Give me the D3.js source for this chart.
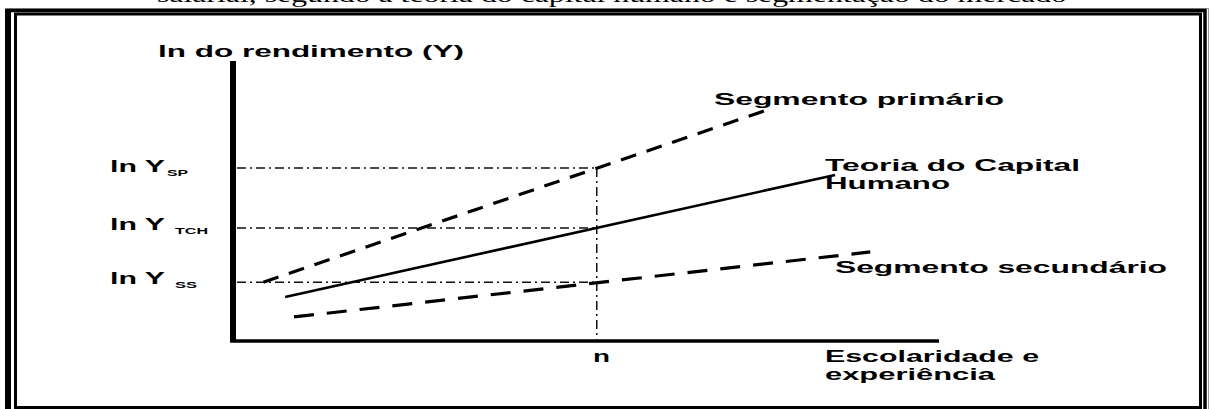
<!DOCTYPE html>
<html>
<head>
<meta charset="utf-8">
<title>Capital humano e segmentação</title>
<script src="https://d3js.org/d3.v7.min.js"></script>
<style>
  html, body { margin: 0; padding: 0; background: #fff; }
  svg { display: block; }
  .lbl { font-family: "Liberation Sans", Arial, sans-serif; font-weight: bold; fill: #000; }
</style>
</head>
<body>
<script>
// data (schematic units: escolaridade 0-100, ln rendimento 0-100)
var lineNames = ["Segmento primário", "Teoria do Capital Humano", "Segmento secundário"];
var lineX = [[4.3, 76.2], [7.4, 85.4], [8.65, 90.4]];
var lineY = [[21.0, 82.9], [15.7, 59.3], [8.6, 31.8]];
var lineDash = ["16,11", null, "20,13"];
var levelNames = ["SP", "TCH", "SS"];
var levelValues = [61.8, 40.4, 21.0];
var nValue = 51.6;

var W = 1211, H = 409;

var svg = d3.select("body").append("svg")
  .attr("width", W)
  .attr("height", H);

var x = d3.scaleLinear().domain([0, 100]).range([233, 938]);
var y = d3.scaleLinear().domain([0, 100]).range([341, 61]);

// cut caption at the top
svg.append("text")
  .attr("x", 157).attr("y", 1.5)
  .attr("textLength", 910).attr("lengthAdjust", "spacingAndGlyphs")
  .style("font-family", "'Liberation Serif', 'Times New Roman', serif")
  .style("font-size", "20px")
  .text("salarial, segundo a teoria do capital humano e segmentação do mercado");

// double frame
var frame = svg.append("g");
frame.append("line").attr("x1", 5).attr("x2", 1208).attr("y1", 8.5).attr("y2", 8.5)
  .attr("stroke", "#999").attr("stroke-width", 1);
frame.append("line").attr("x1", 1208.5).attr("x2", 1208.5).attr("y1", 8).attr("y2", 409)
  .attr("stroke", "#999").attr("stroke-width", 1);
frame.append("path").attr("d", "M8,420 V10.5 H1205 V420")
  .attr("fill", "none").attr("stroke", "#000").attr("stroke-width", 3.5);
frame.append("line").attr("x1", 8).attr("x2", 8).attr("y1", 9).attr("y2", 420)
  .attr("stroke", "#000").attr("stroke-width", 6);
frame.append("path").attr("d", "M15.5,407.5 V14 H1200.5 V407.5 Z")
  .attr("fill", "none").attr("stroke", "#000").attr("stroke-width", 3);

// dash-dot guides
var guides = svg.append("g")
  .attr("stroke", "#111").attr("stroke-width", 1.5)
  .attr("stroke-dasharray", "9,4,2,4").attr("fill", "none");
guides.selectAll("line.h").data(levelValues).enter().append("line")
  .attr("class", "h")
  .attr("x1", x(0) + 4).attr("x2", x(nValue))
  .attr("y1", function(d) { return y(d); })
  .attr("y2", function(d) { return y(d); });
guides.append("line")
  .attr("x1", x(nValue)).attr("x2", x(nValue))
  .attr("y1", y(d3.max(levelValues))).attr("y2", y(0));

// lines
svg.append("g").selectAll("line.seg").data(lineNames).enter().append("line")
  .attr("class", "seg")
  .attr("x1", function(d, i) { return x(lineX[i][0]); })
  .attr("y1", function(d, i) { return y(lineY[i][0]); })
  .attr("x2", function(d, i) { return x(lineX[i][1]); })
  .attr("y2", function(d, i) { return y(lineY[i][1]); })
  .attr("stroke", "#000")
  .attr("stroke-width", function(d, i) { return lineDash[i] ? 3.2 : 2.6; })
  .attr("stroke-dasharray", function(d, i) { return lineDash[i]; });

// axes
svg.append("line")
  .attr("x1", x(0)).attr("x2", x(0))
  .attr("y1", y(100)).attr("y2", y(0) + 1)
  .attr("stroke", "#000").attr("stroke-width", 6);
svg.append("line")
  .attr("x1", x(0) - 3).attr("x2", x(100) + 1)
  .attr("y1", y(0)).attr("y2", y(0))
  .attr("stroke", "#000").attr("stroke-width", 3.5);

// text labels
function label(str, px, py, len, size) {
  svg.append("text").attr("class", "lbl")
    .attr("x", px).attr("y", py)
    .attr("textLength", len).attr("lengthAdjust", "spacingAndGlyphs")
    .style("font-size", (size || 16) + "px")
    .text(str);
}

label("ln do rendimento (Y)", 158, 57, 306);
label("Segmento primário", 714, 105, 290);
label("Teoria do Capital", 825, 171, 255);
label("Humano", 825, 189, 125);
label("Segmento secundário", 835, 273, 332);
label("Escolaridade e", 825, 362, 214);
label("experiência", 825, 380, 170);
label("n", 593, 362, 17);

var subX = [167, 175, 175];
var subLen = [21, 33, 22];
var levelLabelY = [172, 230, 284];
levelNames.forEach(function(name, i) {
  label("ln Y", 110, levelLabelY[i], 55, 16.5);
  label(name, subX[i], levelLabelY[i] + 4, subLen[i], 9);
});
</script>
</body>
</html>
